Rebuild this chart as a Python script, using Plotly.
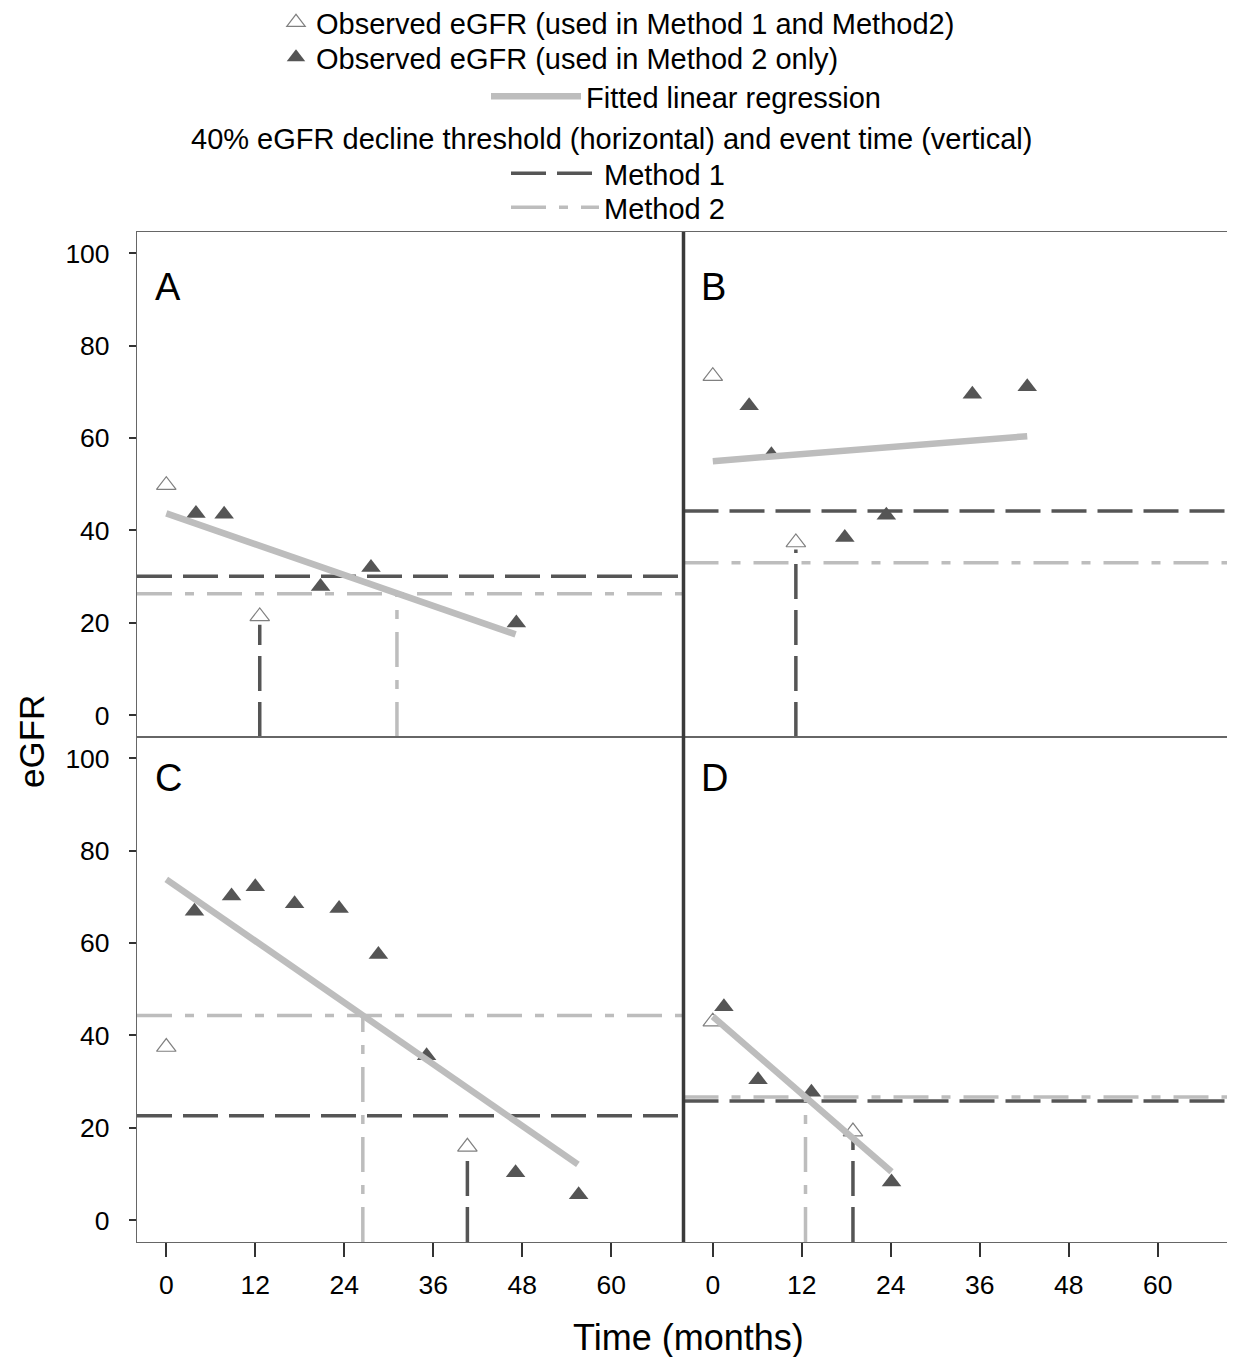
import plotly.graph_objects as go
from plotly.subplots import make_subplots

# page offset of the figure in the browser (default body margin)
OFF = 8
FIG_W, FIG_H = 1235 - OFF, 1357 - OFF
ML, MR, MT, MB = 137 - OFF, 5, 232 - OFF, 115
PW = FIG_W - ML - MR
PH = FIG_H - MT - MB

# ---------------- data ----------------
panels = ["A", "B", "C", "D"]
panel_pos = {"A": (1, 1), "B": (1, 2), "C": (2, 1), "D": (2, 2)}

x_ticks = [0, 12, 24, 36, 48, 60]
y_ticks = [0, 20, 40, 60, 80, 100]
X_RANGE = [-3.95, 69.74]
Y_RANGE = [-4.7, 104.6]

open_x = {"A": [0, 12.6], "B": [0, 11.2], "C": [0, 40.6], "D": [0, 18.9]}
open_y = {"A": [49.8, 21.4], "B": [73.4, 37.4], "C": [37.5, 15.9], "D": [43.0, 19.2]}

filled_x = {
    "A": [4.0, 7.8, 20.8, 27.6, 47.2],
    "B": [4.9, 7.9, 17.8, 23.4, 35.0, 42.4],
    "C": [3.8, 8.8, 12.0, 17.3, 23.3, 28.6, 35.1, 47.1, 55.6],
    "D": [1.5, 6.1, 13.3, 24.1],
}
filled_y = {
    "A": [43.7, 43.5, 27.9, 32.0, 20.0],
    "B": [67.0, 56.4, 38.5, 43.3, 69.5, 71.1],
    "C": [66.9, 70.2, 72.2, 68.5, 67.5, 57.5, 35.6, 10.3, 5.5],
    "D": [46.2, 30.4, 27.7, 8.3],
}

reg_x = {"A": [0, 47.1], "B": [0, 42.4], "C": [0, 55.5], "D": [0, 24.1]}
reg_y = {"A": [43.7, 17.5], "B": [55.0, 60.4], "C": [73.8, 12.1], "D": [44.1, 10.5]}

m1_threshold = {"A": 30.1, "B": 44.2, "C": 22.6, "D": 25.8}
m1_event_time = {"A": 12.6, "B": 11.2, "C": 40.6, "D": 18.9}
m1_event_top = {"A": 19.6, "B": 35.9, "C": 13.9, "D": 17.6}

m2_threshold = {"A": 26.3, "B": 33.0, "C": 44.3, "D": 26.7}
m2_event_time = {"A": 31.1, "B": None, "C": 26.5, "D": 12.5}

# ---------------- styles ----------------
DARK = "#555555"
LIGHT = "#bdbdbd"
FONT = "Liberation Sans, Arial, sans-serif"
M1_DASH = "35px,11px"
M2_DASH = "35px,13px,9px,13px"
MSIZE = 17

fig = make_subplots(rows=2, cols=2, horizontal_spacing=0, vertical_spacing=0)

for p in panels:
    r, c = panel_pos[p]
    first = p == "A"
    fig.add_trace(go.Scatter(x=X_RANGE, y=[m1_threshold[p]] * 2, mode="lines",
                             line=dict(color=DARK, width=3.5, dash=M1_DASH),
                             name="Method 1", legend="legend4", legendgroup="m1",
                             showlegend=first, hoverinfo="skip"), row=r, col=c)
    fig.add_trace(go.Scatter(x=[m1_event_time[p]] * 2, y=[Y_RANGE[0], m1_event_top[p]],
                             mode="lines", line=dict(color=DARK, width=3.5, dash=M1_DASH),
                             legendgroup="m1", showlegend=False, hoverinfo="skip"),
                  row=r, col=c)
    fig.add_trace(go.Scatter(x=X_RANGE, y=[m2_threshold[p]] * 2, mode="lines",
                             line=dict(color=LIGHT, width=3.5, dash=M2_DASH),
                             name="Method 2", legend="legend5", legendgroup="m2",
                             showlegend=first, hoverinfo="skip"), row=r, col=c)
    if m2_event_time[p] is not None:
        fig.add_trace(go.Scatter(x=[m2_event_time[p]] * 2, y=[Y_RANGE[0], m2_threshold[p]],
                                 mode="lines", line=dict(color=LIGHT, width=3.5, dash=M2_DASH),
                                 legendgroup="m2", showlegend=False, hoverinfo="skip"),
                      row=r, col=c)
    fig.add_trace(go.Scatter(x=open_x[p], y=open_y[p], mode="markers",
                             marker=dict(symbol="triangle-up", size=MSIZE, color="white",
                                         line=dict(color="#808080", width=1.2)),
                             name="Observed eGFR (used in Method 1 and Method2)",
                             legend="legend", legendgroup="open", showlegend=first),
                  row=r, col=c)
    fig.add_trace(go.Scatter(x=filled_x[p], y=filled_y[p], mode="markers",
                             marker=dict(symbol="triangle-up", size=MSIZE, color=DARK,
                                         line=dict(color=DARK, width=0)),
                             name="Observed eGFR (used in Method 2 only)",
                             legend="legend2", legendgroup="filled", showlegend=first),
                  row=r, col=c)
    fig.add_trace(go.Scatter(x=reg_x[p], y=reg_y[p], mode="lines",
                             line=dict(color=LIGHT, width=6.5),
                             name="Fitted linear regression", legend="legend3",
                             legendgroup="reg", showlegend=first), row=r, col=c)

for p in panels:
    r, c = panel_pos[p]
    fig.update_xaxes(range=X_RANGE, tickvals=x_ticks, showgrid=False, zeroline=False,
                     showline=True, mirror=True, linecolor="#666666", linewidth=1.2,
                     ticks="outside" if r == 2 else "", ticklen=14, tickwidth=1.5,
                     tickcolor="#333333", showticklabels=(r == 2),
                     ticklabelstandoff=5,
                     tickfont=dict(family=FONT, size=26.5, color="black"), row=r, col=c)
    fig.update_yaxes(range=Y_RANGE, tickvals=y_ticks, showgrid=False, zeroline=False,
                     showline=True, mirror=True, linecolor="#666666", linewidth=1.2,
                     ticks="outside" if c == 1 else "", ticklen=7, tickwidth=1.5,
                     tickcolor="#333333", showticklabels=(c == 1),
                     ticklabelstandoff=14,
                     tickfont=dict(family=FONT, size=26.5, color="black"), row=r, col=c)

fig.add_shape(type="line", xref="paper", yref="paper", x0=0.5, x1=0.5, y0=0, y1=1,
              line=dict(color="#3a3a3a", width=3.5))


def sx(px):
    """screen x pixel -> paper x"""
    return (px - OFF - ML) / PW


def sy(py):
    """screen y pixel -> paper y"""
    return (FIG_H - MB - (py - OFF)) / PH


letter_pos = {"A": (153, 287), "B": (699, 287), "C": (153, 778), "D": (699, 778)}
for p in panels:
    lx, ly = letter_pos[p]
    fig.add_annotation(x=sx(lx), y=sy(ly), xref="paper", yref="paper", text=p,
                       showarrow=False, xanchor="left", yanchor="middle",
                       font=dict(family=FONT, size=38, color="black"))

fig.add_annotation(x=sx(688), y=sy(1337), xref="paper", yref="paper",
                   text="Time (months)", showarrow=False, xanchor="center", yanchor="middle",
                   font=dict(family=FONT, size=36, color="black"))
fig.add_annotation(x=sx(31), y=sy(742), xref="paper", yref="paper",
                   text="eGFR", showarrow=False, textangle=-90, xanchor="center",
                   yanchor="middle", font=dict(family=FONT, size=35, color="black"))

fig.add_annotation(x=sx(611), y=sy(139), xref="paper", yref="paper",
                   text="40% eGFR decline threshold (horizontal) and event time (vertical)",
                   showarrow=False, xanchor="center", yanchor="middle",
                   font=dict(family=FONT, size=29, color="black"))

leg_font = dict(family=FONT, size=29, color="black")
LEG_DY = 27


def leg(xs, ys_center, **kw):
    d = dict(x=sx(xs), y=sy(ys_center - LEG_DY), xanchor="left", yanchor="top",
             font=leg_font, bgcolor="rgba(0,0,0,0)", itemsizing="trace")
    d.update(kw)
    return d


fig.update_layout(
    width=FIG_W, height=FIG_H,
    margin=dict(l=ML, r=MR, t=MT, b=MB, autoexpand=False),
    plot_bgcolor="white", paper_bgcolor="white",
    legend=leg(316 - 40, 24),
    legend2=leg(316 - 40, 59),
    legend3=leg(586 - 100, 98, itemwidth=90),
    legend4=leg(606 - 100, 175, itemwidth=88),
    legend5=leg(606 - 100, 209, itemwidth=88),
    showlegend=True,
)

fig.write_html("out.html")
